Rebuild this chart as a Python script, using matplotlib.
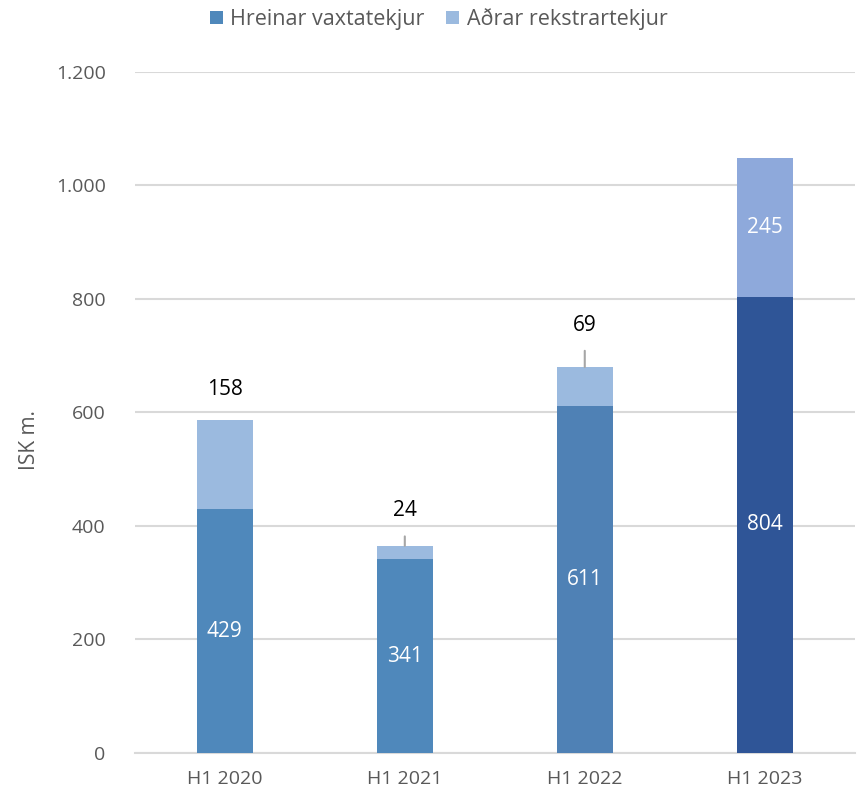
import numpy as np
import matplotlib.pyplot as plt

plt.rcParams['font.family'] = ['Open Sans', 'DejaVu Sans']

categories = ['H1 2020', 'H1 2021', 'H1 2022', 'H1 2023']
net_interest = [429, 341, 611, 804]
other_income = [158, 24, 69, 245]

bottom_colors = ['#4F88BB', '#4F88BB', '#4F81B5', '#2F5597']
top_colors = ['#9BBADF', '#9BBADF', '#9BBADF', '#8EA9DB']

fig = plt.figure(figsize=(8.59, 7.99), dpi=100)
ax = fig.add_axes([0.157, 0.0576, 0.838, 0.8524])

x = np.arange(len(categories))
w = 0.31
ax.bar(x, net_interest, width=w, color=bottom_colors, label='Hreinar vaxtatekjur', zorder=3)
ax.bar(x, other_income, width=w, bottom=net_interest, color=top_colors,
       label='Aðrar rekstrartekjur', zorder=3)

# gildi inni í neðri hluta
for i, v in enumerate(net_interest):
    ax.text(x[i], v / 2, str(v), ha='center', va='center', color='white', fontsize=15, zorder=4)

# efri hluti: 2023 inni í stöpli, hinir fyrir ofan
for i, v in enumerate(other_income):
    top = net_interest[i] + v
    if i == 3:
        ax.text(x[i], net_interest[i] + v / 2, str(v), ha='center', va='center',
                color='white', fontsize=15, zorder=4)
    elif i == 0:
        ax.text(x[i], top + 53, str(v), ha='center', va='center', color='black', fontsize=15)
    else:
        lift = 62 if i == 1 else 74
        ax.annotate(str(v), xy=(x[i], top), xytext=(x[i], top + lift),
                    ha='center', va='center', fontsize=15, color='black',
                    arrowprops=dict(arrowstyle='-', color='#A6A6A6', lw=1.5,
                                    shrinkA=9, shrinkB=0))

ax.set_xlim(-0.5, 3.5)
ax.set_ylim(0, 1200)
ax.set_xticks(x)
ax.set_xticklabels(categories)
ax.set_yticks(np.arange(0, 1201, 200))
ax.set_yticklabels(['0', '200', '400', '600', '800', '1.000', '1.200'])
ax.tick_params(length=0, labelsize=14, colors='#595959')
ax.tick_params(axis='y', pad=21)
ax.tick_params(axis='x', pad=12)
ax.set_ylabel('ISK m.', fontsize=15, color='#595959')
ax.yaxis.set_label_coords(-0.132, 0.46)

ax.grid(axis='y', color='#D9D9D9', lw=1.5, zorder=0)
for s in ['top', 'right', 'left']:
    ax.spines[s].set_visible(False)
ax.spines['bottom'].set_color('#D9D9D9')
ax.spines['bottom'].set_linewidth(1.5)

ax.legend(loc='upper center', bbox_to_anchor=(0.422, 1.122), ncol=2, frameon=False,
          fontsize=15.5, handlelength=0.6, handleheight=0.6, handletextpad=0.35,
          columnspacing=1.0, labelcolor='#595959')

fig.savefig('out.png', dpi=100)
